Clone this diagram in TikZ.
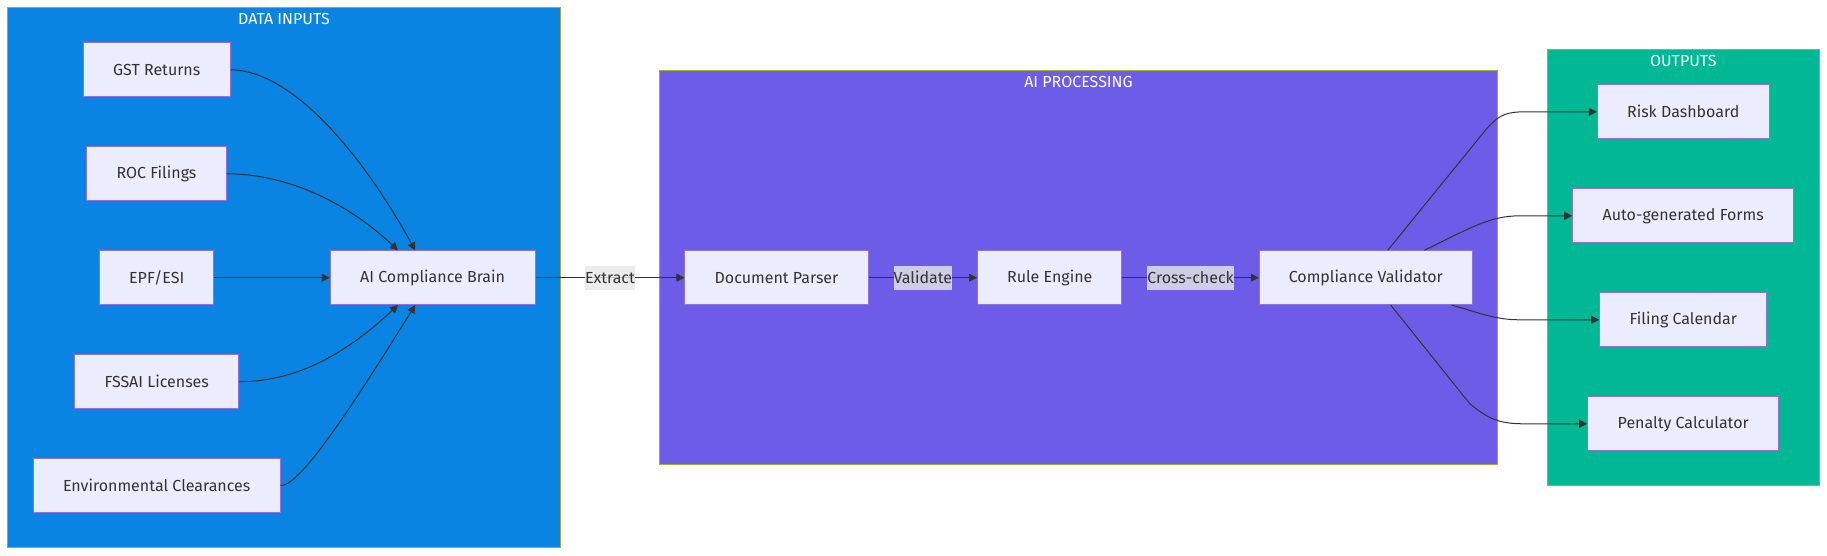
\documentclass[tikz,border=0pt]{standalone}
\usepackage{fontspec}
\setmainfont{Fira Sans}
\usetikzlibrary{arrows.meta}
\definecolor{nodefill}{HTML}{ECECFF}
\definecolor{nodeline}{HTML}{9370DB}
\definecolor{edgec}{HTML}{333333}
\definecolor{cinput}{HTML}{0984E3}
\definecolor{cproc}{HTML}{6C5CE7}
\definecolor{cout}{HTML}{00B894}
\definecolor{clusterline}{HTML}{AAAA33}
\definecolor{lblfill}{HTML}{E8E8E8}
\begin{document}
\begin{tikzpicture}[x=1pt,y=-1pt,
 box/.style={draw=nodeline, fill=nodefill, line width=1pt, minimum height=53.7pt, inner sep=0pt, text=edgec, font=\fontsize{16pt}{19pt}\selectfont},
 cluster/.style={draw=clusterline, line width=1pt},
 ctitle/.style={text=white, font=\fontsize{16pt}{19pt}\selectfont, inner sep=0pt},
 conn/.style={draw=edgec, line width=1pt, -{Triangle[length=8pt,width=8pt]}},
 lbl/.style={fill=lblfill, fill opacity=0.8, text opacity=1, text=edgec, inner xsep=0pt, inner ysep=0pt, minimum height=23.7pt, font=\fontsize{16pt}{19pt}\selectfont}
]
\useasboundingbox (0,0) rectangle (1827,556);
\fill[white] (0,0) rectangle (1827,556);
% clusters
\path[cluster, fill=cinput] (7.7,8) rectangle (560,547.7);
\node[ctitle] (tin) at (283.9,19) {DATA INPUTS};
\path[cluster, fill=cproc] (659.4,70.7) rectangle (1497.7,464.3);
\node[ctitle] (tproc) at (1078.5,82) {AI PROCESSING};
\path[cluster, fill=cout] (1547.7,50) rectangle (1819,485.7);
\node[ctitle] (tout) at (1683.3,61) {OUTPUTS};
% input nodes
\node[box, minimum width=146.6pt] (gst) at (156.7,69.8) {GST Returns};
\node[box, minimum width=139.3pt] (roc) at (156.5,173.8) {ROC Filings};
\node[box, minimum width=114.4pt] (epf) at (156.7,277.7) {EPF/ESI};
\node[box, minimum width=164.2pt] (fssai) at (156.7,381.7) {FSSAI Licenses};
\node[box, minimum width=246.8pt] (env) at (156.7,485.7) {Environmental Clearances};
\node[box, minimum width=204.8pt] (brain) at (432.6,277.7) {AI Compliance Brain};
% processing nodes
\node[box, minimum width=183.1pt] (parser) at (776.5,277.7) {Document Parser};
\node[box, minimum width=144.4pt] (rule) at (1049.7,277.7) {Rule Engine};
\node[box, minimum width=213pt] (valid) at (1365.8,277.7) {Compliance Validator};
% outputs
\node[box, minimum width=171.7pt] (risk) at (1683.2,111.8) {Risk Dashboard};
\node[box, minimum width=221pt] (forms) at (1683.2,215.8) {Auto-generated Forms};
\node[box, minimum width=167.3pt] (filing) at (1683.3,319.8) {Filing Calendar};
\node[box, minimum width=191pt] (penalty) at (1683.2,423.8) {Penalty Calculator};
% input edges
\draw[conn] (gst.east) .. controls (290,69.8) and (360,150) .. (brain.north -| 415.2,0);
\draw[conn] (roc.east) .. controls (290,173.8) and (350,205) .. (brain.north -| 398,0);
\draw[conn] (epf) -- (brain);
\draw[conn] (fssai.east) .. controls (300,381.7) and (350,350) .. (brain.south -| 398,0);
\draw[conn] (env.east) .. controls (300,485.7) and (350,410) .. (brain.south -| 415.2,0);
% processing edges
\draw[conn] (brain) -- node[lbl] (lx) {Extract} (parser);
\draw[conn] (parser) -- node[lbl] (lv) {Validate} (rule);
\draw[conn] (rule) -- node[lbl] (lc) {Cross-check} (valid);
% output edges
\draw[conn] (valid.north -| 1387.7,0) -- (1475,143) .. controls (1495,118) and (1500,111.8) .. (1525,111.8) -- (risk.west);
\draw[conn] (valid.north -| 1424.3,0) .. controls (1470,228) and (1490,215.8) .. (1520,215.8) -- (forms.west);
\draw[conn] (valid.south -| 1451.7,0) .. controls (1480,313) and (1495,319.8) .. (1520,319.8) -- (filing.west);
\draw[conn] (valid.south -| 1390.7,0) -- (1470,404) .. controls (1490,420) and (1500,423.8) .. (1525,423.8) -- (penalty.west);
\end{tikzpicture}
\end{document}
